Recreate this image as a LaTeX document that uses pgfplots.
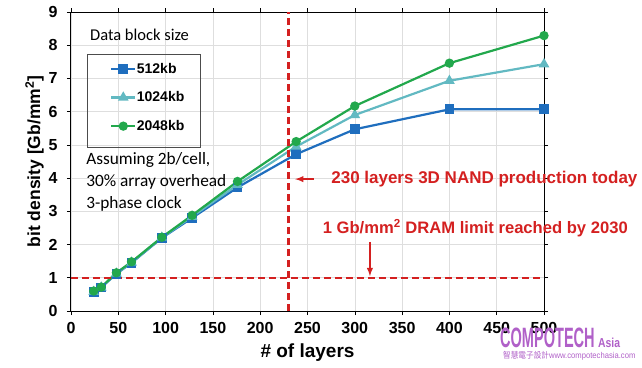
\documentclass[border=0pt]{standalone}
\usepackage{pgfplots}
\pgfplotsset{compat=1.18}
\usepackage{fontspec}
\setmainfont{Liberation Sans}
\newfontfamily\calfont{Carlito}
\newfontfamily\cjk{Noto Sans CJK TC}
\definecolor{cblue}{HTML}{1F6EBE}
\definecolor{cteal}{HTML}{62B9C2}
\definecolor{cgreen}{HTML}{22A84C}
\definecolor{cred}{HTML}{D42020}
\definecolor{cpurple}{HTML}{B060C8}
\begin{document}
\begin{tikzpicture}
\begin{axis}[
  scale only axis, width=473pt, height=299pt,
  xmin=0, xmax=500, ymin=0, ymax=9,
  xtick={0,50,...,500}, ytick={0,1,...,9},
  grid=major, major grid style={draw=black!13, line width=0.6pt},
  tick align=outside, major tick length=4pt,
  tick style={black, line width=0.6pt},
  axis line style={black, line width=1pt},
  xticklabel={\bfseries\fontsize{16}{18}\selectfont\pgfmathprintnumber{\tick}},
  yticklabel={\bfseries\fontsize{16}{18}\selectfont\pgfmathprintnumber{\tick}},
  xticklabel style={yshift=-4pt},
  yticklabel style={xshift=-6pt},
  /pgf/number format/assume math mode=true,
  xlabel={\bfseries\fontsize{19}{21}\selectfont \# of layers},
  ylabel={\bfseries\fontsize{17.5}{20}\selectfont bit density [Gb/mm\textsuperscript{2}]},
  xlabel style={yshift=-3pt},
  ylabel style={yshift=-2pt},
  clip=false,
  legend cell align=left,
  legend image code/.code={\draw[mark repeat=2,mark phase=2] plot coordinates {(0pt,0pt) (12pt,0pt) (24pt,0pt)};},
  legend style={at={(axis cs:41.2,7.47)}, anchor=north west, draw=none, fill=none,
    inner sep=0pt, row sep=17pt,
    font=\bfseries\fontsize{14}{16}\selectfont,
    nodes={inner xsep=0.5pt, inner ysep=0pt}},
]
\addplot[cblue, line width=2.2pt, mark=square*, mark size=3.8pt, mark options={solid}] coordinates {
 (24,0.58) (32,0.71) (48,1.12) (64,1.45) (96,2.2) (128,2.8) (176,3.72) (238,4.72) (300,5.47) (400,6.07) (500,6.07)};
\addlegendentry{512kb}
\addplot[cteal, line width=2.2pt, mark=triangle*, mark size=4pt, mark options={solid}] coordinates {
 (24,0.58) (32,0.71) (48,1.13) (64,1.46) (96,2.21) (128,2.84) (176,3.8) (238,4.95) (300,5.9) (400,6.93) (500,7.43)};
\addlegendentry{1024kb}
\addplot[cgreen, line width=2.2pt, mark=*, mark size=3.5pt, mark options={solid}] coordinates {
 (24,0.6) (32,0.72) (48,1.15) (64,1.48) (96,2.22) (128,2.88) (176,3.9) (238,5.1) (300,6.17) (400,7.46) (500,8.29)};
\addlegendentry{2048kb}
\addplot[cred, line width=2.3pt, dash pattern=on 7pt off 4pt, forget plot] coordinates {(230,0) (230,9)};
\addplot[cred, line width=2.3pt, dash pattern=on 7pt off 4pt, forget plot] coordinates {(0,1) (500,1)};
\draw[black!70, line width=0.8pt] (axis cs:16.9,7.71) rectangle (axis cs:136.4,4.91);
\draw[cred, line width=1.8pt, -latex] (axis cs:257,3.97) -- (axis cs:237,3.97);
\draw[cred, line width=1.8pt, -latex] (axis cs:316,2.08) -- (axis cs:316,1.05);
\node[anchor=west, text=cred, font=\bfseries\fontsize{17}{19}\selectfont, inner sep=0pt] at (axis cs:275,3.97) {230 layers 3D NAND production today};
\node[anchor=west, text=cred, font=\bfseries\fontsize{16.6}{19}\selectfont, inner sep=0pt] at (axis cs:266,2.5) {1 Gb/mm\textsuperscript{2} DRAM limit reached by 2030};
\node[anchor=west, font=\calfont\fontsize{16.5}{18}\selectfont, inner sep=0pt] at (axis cs:20,8.31) {Data block size};
\node[anchor=west, font=\calfont\fontsize{17.3}{20}\selectfont, inner sep=0pt] at (axis cs:16,4.55) {Assuming 2b/cell,};
\node[anchor=west, font=\calfont\fontsize{17.3}{20}\selectfont, inner sep=0pt] at (axis cs:16,3.88) {30\% array overhead};
\node[anchor=west, font=\calfont\fontsize{17.3}{20}\selectfont, inner sep=0pt] at (axis cs:16,3.22) {3-phase clock};
\end{axis}
\node[anchor=base west, text=cpurple, inner sep=0pt, font=\bfseries\fontsize{28}{28}\selectfont, xscale=0.52, transform shape] at (429pt,-36pt) {COMPOTECH};
\node[anchor=base west, text=cpurple, inner sep=0pt, font=\bfseries\fontsize{13}{13}\selectfont, xscale=0.8, transform shape] at (527pt,-36pt) {Asia};
\node[anchor=west, text=cpurple, inner sep=0pt, font=\fontsize{8.5}{8.5}\selectfont, xscale=0.9, transform shape] at (432pt,-45pt) {{\cjk 智慧電子設計}www.compotechasia.com};
\pgfresetboundingbox
\useasboundingbox (-71pt,-56pt) rectangle (571pt,311pt);
\end{tikzpicture}
\end{document}
